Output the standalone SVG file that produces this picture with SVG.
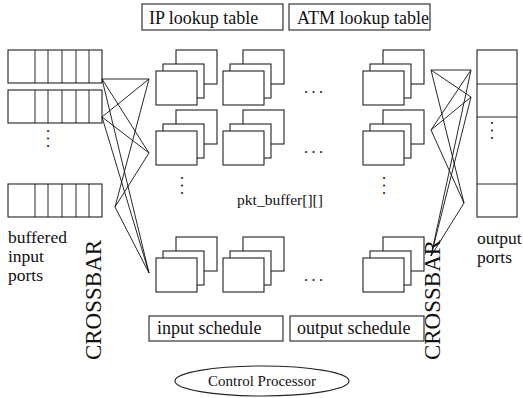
<svg xmlns="http://www.w3.org/2000/svg" width="523" height="398" viewBox="0 0 523 398">
  <defs>
    <style>
      text { font-family: "Liberation Serif", "Times New Roman", serif; fill: #111; }
      .box { fill: #fff; stroke: #222; stroke-width: 1.1; }
      .wire { fill: none; stroke: #111; stroke-width: 0.9; }
      .lbl { font-size: 18px; }
      .side { font-size: 17.5px; }
      .big { font-size: 23px; }
      .dots { font-size: 16px; letter-spacing: 3.5px; }
    </style>
    <!-- one packet-buffer stack: back, middle and front page -->
    <g id="stack">
      <rect class="box" x="20" y="-21" width="41" height="34"/>
      <rect class="box" x="7" y="-7" width="41" height="34"/>
      <rect class="box" x="0" y="0" width="41" height="34"/>
    </g>
    <!-- input port queue with five cells -->
    <g id="queue">
      <rect class="box" x="0" y="0" width="94" height="33"/>
      <path class="wire" d="M27 0V33M40 0V33M54 0V33M68 0V33M81 0V33"/>
    </g>
  </defs>

  <rect width="523" height="398" fill="#fff"/>

  <!-- lookup tables -->
  <g id="ip-lookup">
    <rect class="box" x="142" y="4" width="141" height="26"/>
    <text class="lbl" x="149" y="24">IP lookup table</text>
  </g>
  <g id="atm-lookup">
    <rect class="box" x="289" y="4" width="141" height="26"/>
    <text class="lbl" x="297" y="24">ATM lookup table</text>
  </g>

  <!-- buffered input ports -->
  <g id="input-ports">
    <use href="#queue" x="8" y="50"/>
    <use href="#queue" x="8" y="90"/>
    <use href="#queue" x="8" y="184"/>
    <text class="dots" transform="translate(47,129) rotate(90)">...</text>
    <text class="side" x="8" y="243">buffered</text>
    <text class="side" x="8" y="262">input</text>
    <text class="side" x="8" y="281">ports</text>
  </g>

  <!-- output ports -->
  <g id="output-ports">
    <rect class="box" x="477" y="50" width="40" height="167"/>
    <path class="wire" d="M477 84H517M477 117H517M477 184H517"/>
    <text class="dots" transform="translate(491,121) rotate(90)">...</text>
    <text class="side" x="477" y="244">output</text>
    <text class="side" x="477" y="263">ports</text>
  </g>

  <!-- packet buffer array -->
  <g id="pkt-buffer">
    <use href="#stack" x="156" y="71"/>
    <use href="#stack" x="223" y="71"/>
    <use href="#stack" x="363" y="71"/>
    <use href="#stack" x="156" y="131"/>
    <use href="#stack" x="223" y="131"/>
    <use href="#stack" x="363" y="131"/>
    <use href="#stack" x="156" y="258"/>
    <use href="#stack" x="223" y="258"/>
    <use href="#stack" x="363" y="258"/>
    <text class="dots" x="304" y="93">...</text>
    <text class="dots" x="304" y="153">...</text>
    <text class="dots" x="304" y="281">...</text>
    <text class="dots" transform="translate(181,176) rotate(90)">...</text>
    <text class="dots" transform="translate(383,176) rotate(90)">...</text>
    <text x="280" y="205" font-size="15.5" text-anchor="middle">pkt_buffer[][]</text>
  </g>

  <!-- crossbars -->
  <g id="connectors">
    <path class="wire" d="M102 79L149 79M102 79L149 153M102 79L149 273
                          M102 117L149 79M102 117L149 153M102 117L149 273
                          M115 207L149 79M115 207L149 153M115 207L149 273"/>
    <path class="wire" d="M431 70L471 70M431 70L471 97M431 70L464 203
                          M431 130L471 70M431 130L471 97M431 130L464 203
                          M431 256L471 70M431 256L471 97M431 256L464 203"/>
  </g>
  <g id="crossbar-left">
    <text class="big" transform="translate(101,300) rotate(-90)" text-anchor="middle">CROSSBAR</text>
  </g>
  <g id="crossbar-right">
    <text class="big" transform="translate(440,300) rotate(-90)" text-anchor="middle">CROSSBAR</text>
  </g>

  <!-- schedules -->
  <g id="input-schedule">
    <rect class="box" x="149" y="316" width="134" height="25"/>
    <text class="lbl" x="157" y="334">input schedule</text>
  </g>
  <g id="output-schedule">
    <rect class="box" x="290" y="316" width="134" height="25"/>
    <text class="lbl" x="297" y="334">output schedule</text>
  </g>

  <!-- control processor -->
  <g id="control-processor">
    <ellipse class="box" cx="262" cy="381" rx="87" ry="15"/>
    <text x="262" y="386" font-size="15" text-anchor="middle">Control Processor</text>
  </g>
</svg>
